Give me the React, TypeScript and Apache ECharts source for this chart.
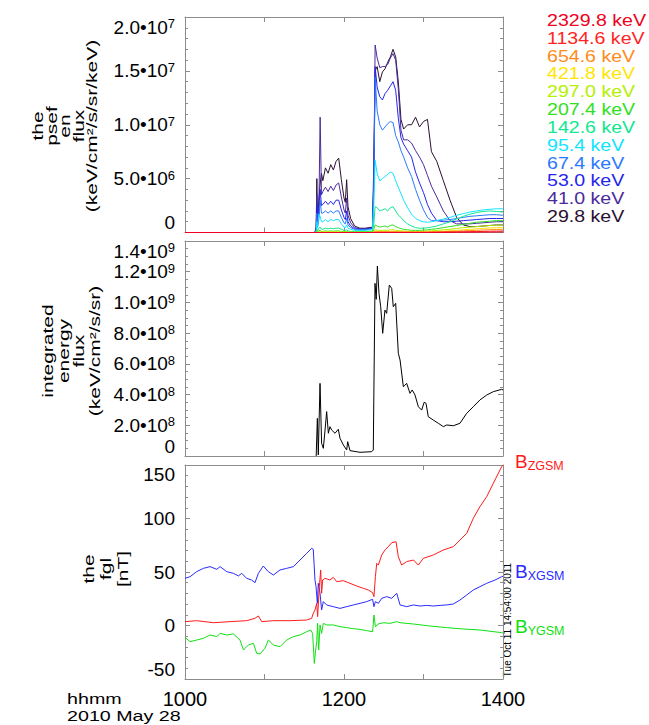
import React, { useEffect, useRef } from 'react';
import * as echarts from 'echarts';

const FONT = '"Liberation Sans", Arial, Helvetica, sans-serif';

// ---- time axis (minutes after 10:00 UT) ----
const timeTickValues = [0, 60, 120, 180, 240];
const timeTickLabels = ['1000', '', '1200', '', '1400'];

// ---- tick labels ----
const fluxTickValues = [0, 5, 10, 15, 20]; // units of 1e6
const fluxTickMantissa = ['0', '5.0', '1.0', '1.5', '2.0'];
const fluxTickExponent = ['', '6', '7', '7', '7'];

const intTickValues = [0, 2, 4, 6, 8, 10, 12, 14]; // units of 1e8
const intTickMantissa = ['0', '2.0', '4.0', '6.0', '8.0', '1.0', '1.2', '1.4'];
const intTickExponent = ['', '8', '8', '8', '8', '9', '9', '9'];

const fglTickValues = [-50, 0, 50, 100, 150];
const fglTickLabels = ['-50', '0', '50', '100', '150'];

// ---- panel 1: psef energy flux per channel (units of 1e6 keV/cm2/s/sr/keV) ----
const fluxTimes = [0, 98, 99, 99.5, 100, 101, 102, 103, 104, 106, 108, 110, 112, 114, 116, 118, 120, 121, 122, 123, 125, 128, 132, 136, 141.5, 142.5, 143.5, 145, 147, 149, 151, 153, 155, 157, 159, 161, 163, 165, 168, 171, 174, 177, 180, 183, 186, 190, 195, 200, 205, 210, 215, 220, 225, 230, 235, 240];

const flux29_8 = [0, 0, 0.5, 5.0, 1.0, 3.0, 4.5, 5.5, 4.8, 6.0, 5.5, 6.3, 5.8, 6.6, 6.9, 4.9, 3.2, 2.8, 4.9, 2.4, 1.3, 0.6, 0.4, 0.4, 0.5, 6.5, 15.0, 15.4, 14.0, 14.9, 15.2, 15.8, 16.3, 17.0, 16.3, 14.0, 10.5, 9.6, 10.0, 10.0, 10.7, 9.8, 10.3, 10.5, 7.5, 6.6, 4.8, 3.0, 1.4, 0.7, 0.55, 0.55, 0.6, 0.65, 0.7, 0.7];
const flux41_0 = [0, 0, 0.3, 3.5, 0.8, 2.0, 10.7, 3.5, 3.8, 4.2, 3.8, 4.3, 3.9, 4.4, 4.6, 3.3, 2.1, 1.8, 3.2, 1.6, 0.9, 0.45, 0.35, 0.35, 0.45, 5.0, 17.4, 16.2, 15.3, 15.4, 15.4, 15.6, 16.2, 16.6, 16.0, 13.3, 9.5, 8.6, 8.6, 8.3, 7.6, 7.0, 6.3, 5.3, 4.3, 3.3, 2.0, 1.1, 0.8, 0.8, 0.8, 0.85, 0.9, 0.95, 1.0, 1.0];
const flux53_0 = [0, 0, 0.2, 2.5, 0.6, 1.6, 4.0, 2.5, 2.6, 2.9, 2.6, 2.9, 2.6, 3.0, 3.0, 2.1, 1.4, 1.2, 2.0, 1.0, 0.6, 0.35, 0.3, 0.3, 0.4, 4.5, 15.4, 13.5, 12.6, 12.3, 12.9, 13.2, 13.6, 14.0, 13.2, 10.6, 8.8, 8.2, 7.6, 7.0, 5.6, 4.6, 3.7, 2.6, 1.8, 1.1, 1.0, 1.0, 1.05, 1.1, 1.15, 1.2, 1.25, 1.3, 1.3, 1.3];
const flux67_4 = [0, 0, 0.15, 1.8, 0.5, 1.2, 3.0, 1.8, 1.8, 2.0, 1.8, 2.0, 1.8, 2.0, 2.0, 1.4, 0.9, 0.8, 1.3, 0.7, 0.45, 0.3, 0.25, 0.25, 0.35, 4.0, 14.4, 11.3, 10.0, 9.5, 9.8, 10.1, 10.3, 10.2, 9.0, 8.4, 7.6, 7.0, 6.0, 5.2, 4.0, 3.0, 2.1, 1.4, 1.1, 1.1, 1.15, 1.2, 1.3, 1.4, 1.5, 1.55, 1.6, 1.65, 1.65, 1.6];
const flux95_4 = [0, 0, 0.1, 1.0, 0.4, 1.7, 1.5, 1.0, 1.0, 1.2, 1.0, 1.2, 1.1, 1.2, 1.2, 0.8, 0.5, 0.45, 0.7, 0.4, 0.3, 0.2, 0.2, 0.2, 0.25, 2.5, 6.7, 5.5, 4.8, 5.0, 5.2, 5.4, 5.6, 5.5, 4.8, 4.2, 3.6, 3.0, 2.3, 1.7, 1.3, 1.1, 1.0, 0.95, 1.0, 1.1, 1.25, 1.4, 1.6, 1.75, 1.9, 2.0, 2.1, 2.15, 2.2, 2.2];
const flux142_6 = [0, 0, 0, 0.3, 0.1, 0.4, 0.5, 0.3, 0.3, 0.4, 0.35, 0.4, 0.35, 0.4, 0.4, 0.3, 0.2, 0.2, 0.25, 0.15, 0.1, 0.1, 0.1, 0.1, 0.1, 0.8, 2.4, 2.3, 2.0, 2.1, 2.2, 2.0, 2.3, 2.4, 2.0, 1.6, 1.4, 1.1, 0.8, 0.6, 0.45, 0.4, 0.4, 0.45, 0.5, 0.6, 0.8, 1.0, 1.25, 1.5, 1.7, 1.85, 1.95, 2.0, 1.95, 1.9];
const flux207_4 = [0, 0, 0, 0.1, 0.05, 0.15, 0.2, 0.1, 0.1, 0.15, 0.12, 0.15, 0.12, 0.15, 0.15, 0.1, 0.08, 0.08, 0.1, 0.06, 0.05, 0.05, 0.05, 0.05, 0.05, 0.3, 0.7, 0.6, 0.5, 0.55, 0.6, 0.5, 0.65, 0.7, 0.55, 0.45, 0.35, 0.3, 0.25, 0.2, 0.2, 0.2, 0.22, 0.25, 0.3, 0.35, 0.45, 0.55, 0.65, 0.75, 0.85, 0.95, 1.0, 1.05, 1.1, 1.1];
const flux297_0 = [0, 0, 0, 0.05, 0.02, 0.05, 0.08, 0.05, 0.05, 0.06, 0.05, 0.06, 0.05, 0.06, 0.06, 0.05, 0.04, 0.04, 0.05, 0.03, 0.02, 0.02, 0.02, 0.02, 0.02, 0.1, 0.25, 0.22, 0.2, 0.2, 0.22, 0.2, 0.24, 0.25, 0.22, 0.18, 0.15, 0.13, 0.12, 0.1, 0.1, 0.1, 0.12, 0.14, 0.16, 0.2, 0.25, 0.3, 0.38, 0.45, 0.5, 0.55, 0.6, 0.65, 0.68, 0.7];
const flux421_8 = [0, 0, 0, 0.02, 0.01, 0.02, 0.03, 0.02, 0.02, 0.02, 0.02, 0.02, 0.02, 0.02, 0.02, 0.02, 0.01, 0.01, 0.02, 0.01, 0.01, 0.01, 0.01, 0.01, 0.01, 0.05, 0.12, 0.1, 0.1, 0.1, 0.1, 0.1, 0.11, 0.12, 0.1, 0.08, 0.07, 0.06, 0.06, 0.05, 0.05, 0.05, 0.06, 0.07, 0.08, 0.1, 0.13, 0.16, 0.2, 0.25, 0.3, 0.34, 0.38, 0.42, 0.44, 0.45];
const flux654_6 = [0, 0, 0, 0, 0, 0, 0, 0, 0, 0, 0, 0, 0, 0, 0, 0, 0, 0, 0, 0, 0, 0, 0, 0, 0, 0.02, 0.05, 0.05, 0.05, 0.05, 0.05, 0.05, 0.05, 0.05, 0.05, 0.04, 0.04, 0.03, 0.03, 0.03, 0.03, 0.03, 0.03, 0.04, 0.05, 0.06, 0.08, 0.1, 0.12, 0.15, 0.18, 0.2, 0.23, 0.26, 0.28, 0.3];
const flux1134_6 = [0, 0, 0, 0, 0, 0, 0, 0, 0, 0, 0, 0, 0, 0, 0, 0, 0, 0, 0, 0, 0, 0, 0, 0, 0, 0.01, 0.02, 0.02, 0.02, 0.02, 0.02, 0.02, 0.02, 0.02, 0.02, 0.02, 0.02, 0.02, 0.02, 0.02, 0.02, 0.02, 0.02, 0.02, 0.03, 0.03, 0.04, 0.05, 0.06, 0.07, 0.08, 0.09, 0.1, 0.12, 0.13, 0.14];
const flux2329_8 = [0, 0, 0, 0, 0, 0, 0, 0, 0, 0, 0, 0, 0, 0, 0, 0, 0, 0, 0, 0, 0, 0, 0, 0, 0, 0, 0, 0, 0, 0, 0, 0, 0, 0, 0, 0, 0, 0, 0, 0, 0, 0, 0, 0, 0, 0, 0.01, 0.01, 0.02, 0.02, 0.03, 0.03, 0.04, 0.04, 0.05, 0.05];

// drawn from lowest energy to highest (highest on top)
const channelLabels = ['29.8 keV', '41.0 keV', '53.0 keV', '67.4 keV', '95.4 keV', '142.6 keV', '207.4 keV', '297.0 keV', '421.8 keV', '654.6 keV', '1134.6 keV', '2329.8 keV'];
const channelColors = ['#2a1030', '#4a2a9a', '#2424ee', '#2a78ff', '#10e4ff', '#10e890', '#30e020', '#b4f000', '#ffe600', '#ff8c1a', '#ff2424', '#ee0020'];
const channelValues = [flux29_8, flux41_0, flux53_0, flux67_4, flux95_4, flux142_6, flux207_4, flux297_0, flux421_8, flux654_6, flux1134_6, flux2329_8];

// ---- panel 2: integrated energy flux (units of 1e8 keV/cm2/s/sr) ----
const intTimes = [99.0, 99.4, 99.9, 100.6, 101.9, 103.1, 104.4, 105.7, 106.9, 108.2, 109.4, 110.7, 113.2, 115.7, 117.0, 119.5, 122.0, 122.8, 124.5, 132.1, 140.9, 142.1, 143.4, 144.3, 145.2, 146.4, 147.7, 149.2, 150.9, 152.2, 154.2, 156.0, 157.2, 159.0, 161.0, 162.3, 164.8, 167.3, 169.8, 171.5, 173.6, 176.1, 178.6, 180.5, 181.9, 183.6, 187.4, 191.2, 195.0, 197.5, 202.5, 207.5, 212.6, 217.6, 222.6, 227.7, 232.7, 239.0, 240];
const intFlux = [0, 0, 2.45, 0.07, 4.73, 0.83, 0.5, 1.69, 2.89, 1.48, 1.91, 1.69, 1.48, 1.74, 1.15, 0.72, 0.39, 0.93, 0.35, 0.24, 0.28, 0.39, 11.24, 10.2, 12.37, 10.59, 9.72, 7.99, 9.5, 9.29, 11.13, 10.92, 9.72, 9.94, 6.69, 6.25, 4.51, 4.73, 4.08, 4.3, 3.97, 3.21, 2.99, 3.5, 3.43, 2.56, 2.34, 2.13, 1.91, 2.02, 1.97, 2.13, 2.78, 3.21, 3.65, 3.97, 4.19, 4.34, 4.3];

// ---- panel 3: fgl magnetic field GSM (nT) ----
const bxTimes = [0, 3.8, 8.8, 13.8, 18.9, 24.0, 26.5, 31.5, 36.5, 40.3, 42.8, 46.5, 50.3, 52.8, 55.4, 59.1, 62.9, 66.7, 71.7, 76.7, 81.8, 86.8, 91.8, 95.6, 96.8, 97.4, 98.1, 98.9, 99.9, 100.6, 101.9, 103.1, 104.4, 106.9, 111.9, 117.0, 122.0, 127.0, 132.1, 137.1, 141.6, 142.6, 143.7, 145.9, 148.5, 152.2, 156.0, 159.8, 162.3, 167.3, 172.4, 177.4, 182.4, 187.4, 192.5, 197.5, 202.5, 207.5, 212.6, 217.6, 222.6, 227.7, 234.0, 239.0, 240];
const bxValues = [44.1, 45.6, 50.3, 53.4, 55.0, 52.5, 55.0, 50.3, 48.8, 46.3, 48.8, 44.1, 42.5, 40.0, 48.8, 55.6, 50.3, 47.2, 51.9, 53.4, 55.0, 61.2, 67.4, 72.1, 71.2, 58.1, 42.5, 36.3, 20.7, 39.4, 30.1, 14.5, 22.3, 19.2, 17.6, 16.0, 17.6, 19.2, 20.7, 22.3, 24.5, 17.6, 22.3, 20.7, 25.4, 27.0, 25.4, 30.1, 19.2, 17.6, 19.2, 18.2, 18.8, 18.2, 18.8, 19.2, 20.1, 23.8, 28.5, 33.2, 36.3, 39.4, 42.5, 45.6, 46.0];

const byTimes = [0, 3.8, 8.8, 13.8, 18.9, 24.0, 26.5, 31.5, 36.5, 41.5, 44.1, 47.8, 51.6, 54.1, 56.6, 60.4, 62.9, 66.7, 71.7, 76.7, 81.8, 86.8, 91.8, 94.8, 96.3, 97.6, 98.6, 99.4, 100.1, 100.9, 101.9, 103.1, 104.4, 106.9, 111.9, 117.0, 122.0, 127.0, 132.1, 137.1, 141.6, 142.6, 143.7, 145.9, 149.7, 154.7, 159.8, 162.3, 172.4, 185.0, 197.5, 210.1, 222.6, 239.0, 240];
const byValues = [-11.1, -15.1, -13.6, -12.0, -8.9, -10.4, -7.3, -8.9, -7.9, -13.6, -22.9, -18.2, -16.7, -26.0, -26.6, -21.3, -13.6, -18.2, -19.8, -13.6, -10.4, -8.9, -5.8, -4.2, -7.3, -35.4, -22.9, -15.1, 2.0, -22.9, 0.5, -7.3, 2.0, 0.5, 0.5, -1.1, -2.0, -3.0, -3.6, -4.8, -5.8, 9.8, -1.1, 1.4, 2.6, 2.0, 3.6, 2.6, 1.4, -0.5, -2.0, -3.3, -4.2, -6.7, -7.0];

const bzTimes = [0, 8.8, 21.4, 34, 46.5, 52.8, 55.4, 57.9, 66.7, 79.2, 91.8, 95.6, 96.8, 98.1, 99.4, 100.1, 101.4, 102.4, 103.1, 103.9, 105.7, 109.4, 111.9, 114.5, 119.5, 124.5, 129.6, 134.6, 138.4, 141.6, 142.6, 143.7, 144.7, 145.9, 147.2, 148.5, 150.9, 153.5, 156.0, 159.3, 161.0, 163.5, 167.3, 172.4, 176.1, 179.9, 187.4, 195.0, 202.5, 207.5, 212.6, 217.6, 222.6, 227.7, 232.7, 239.0, 240];
const bzValues = [3.6, 4.5, 2.6, 3.6, 4.5, 6.7, 8.9, 3.6, 4.5, 4.5, 5.1, 6.7, 11.4, 14.5, 20.7, 8.3, 36.3, 51.9, 30.1, 42.5, 44.1, 42.5, 45.0, 41.0, 41.9, 39.4, 36.9, 34.7, 33.2, 30.7, 27.0, 45.6, 58.1, 56.5, 61.2, 65.9, 70.6, 73.7, 77.4, 78.3, 64.3, 56.5, 59.7, 61.2, 56.5, 62.8, 65.9, 70.6, 73.7, 79.9, 86.1, 100.2, 111.1, 120.4, 132.9, 148.4, 150.0];

const fieldLabels = ['XGSM', 'YGSM', 'ZGSM'];
const fieldColors = ['#2a2aff', '#10e010', '#ff1a1a'];

const AXIS_COLOR = '#8c8c8c';

const grids = [
  { left: 185, top: 17, width: 318, height: 215.5 },
  { left: 185, top: 241, width: 318, height: 215 },
  { left: 185, top: 465, width: 318, height: 214 },
];

function lookupSci(vals: number[], mant: string[], exp: string[]) {
  return (v: number) => {
    const i = vals.findIndex((t) => Math.abs(t - v) < 1e-6);
    if (i < 0) return '';
    return exp[i] ? `{m|${mant[i]}\u202210}{e|${exp[i]}}` : `{m|${mant[i]}}`;
  };
}

function lookupPlain(vals: number[], labels: string[]) {
  return (v: number) => {
    const i = vals.findIndex((t) => Math.abs(t - v) < 1e-6);
    return i < 0 ? '' : labels[i];
  };
}

function makeXAxes(gridIndex: number, showLabels: boolean) {
  const base: any = {
    type: 'value',
    gridIndex,
    min: 0,
    max: 240,
    interval: 60,
    axisLine: { show: true, onZero: false, lineStyle: { color: AXIS_COLOR, width: 1 } },
    axisTick: { show: true, inside: true, length: 5, lineStyle: { color: AXIS_COLOR } },
    splitLine: { show: false },
  };
  return [
    {
      ...base,
      position: 'bottom',
      axisLabel: {
        show: showLabels,
        margin: 10,
        fontSize: 20,
        fontFamily: FONT,
        color: '#000',
        formatter: lookupPlain(timeTickValues, timeTickLabels),
      },
    },
    { ...base, position: 'top', axisLabel: { show: false } },
  ];
}

function makeYAxes(gridIndex: number, min: number, max: number, interval: number, minorSplit: number, formatter: any, rich: boolean) {
  const base: any = {
    type: 'value',
    gridIndex,
    min,
    max,
    interval,
    axisLine: { show: true, onZero: false, lineStyle: { color: AXIS_COLOR, width: 1 } },
    axisTick: { show: true, inside: true, length: 5, lineStyle: { color: AXIS_COLOR } },
    minorTick: { show: true, splitNumber: minorSplit, length: 3, lineStyle: { color: AXIS_COLOR } },
    splitLine: { show: false },
    minorSplitLine: { show: false },
  };
  const labelStyle: any = {
    show: true,
    margin: 10,
    fontSize: 19,
    fontFamily: FONT,
    color: '#000',
    formatter,
    verticalAlignMaxLabel: 'top',
    verticalAlignMinLabel: 'bottom',
  };
  if (rich) {
    labelStyle.rich = {
      m: { fontSize: 19, fontFamily: FONT, color: '#000', lineHeight: 20 },
      e: { fontSize: 13, fontFamily: FONT, color: '#000', verticalAlign: 'top', lineHeight: 12 },
    };
  }
  return [
    { ...base, position: 'left', axisLabel: labelStyle },
    { ...base, position: 'right', axisLabel: { show: false } },
  ];
}

function rotatedTitle(text: string, cx: number, cy: number, lineHeight: number) {
  return {
    type: 'text',
    x: cx,
    y: cy,
    rotation: Math.PI / 2,
    scaleX: 1.4,
    scaleY: 1,
    style: {
      text,
      fontSize: 15,
      fontFamily: FONT,
      fill: '#000',
      align: 'center',
      verticalAlign: 'middle',
      lineHeight,
    },
  };
}

export default function App() {
  const ref = useRef<HTMLDivElement>(null);

  useEffect(() => {
    if (!ref.current) return;
    const chart = echarts.init(ref.current, null, { renderer: 'svg' });

    const series: any[] = [];
    channelValues.forEach((vals, c) => {
      series.push({
        name: channelLabels[c],
        type: 'line',
        xAxisIndex: 0,
        yAxisIndex: 0,
        data: fluxTimes.map((t, i) => [t, vals[i]]),
        symbol: 'none',
        showSymbol: false,
        lineStyle: { color: channelColors[c], width: 1 },
        itemStyle: { color: channelColors[c] },
      });
    });
    series.push({
      name: 'integrated',
      type: 'line',
      xAxisIndex: 2,
      yAxisIndex: 2,
      data: intTimes.map((t, i) => [t, intFlux[i]]),
      symbol: 'none',
      showSymbol: false,
      lineStyle: { color: '#000', width: 1 },
      itemStyle: { color: '#000' },
    });
    const fieldSets = [
      [bxTimes, bxValues],
      [byTimes, byValues],
      [bzTimes, bzValues],
    ];
    fieldSets.forEach(([ts, vs], k) => {
      series.push({
        name: fieldLabels[k],
        type: 'line',
        xAxisIndex: 4,
        yAxisIndex: 4,
        data: (ts as number[]).map((t, i) => [t, (vs as number[])[i]]),
        symbol: 'none',
        showSymbol: false,
        lineStyle: { color: fieldColors[k], width: 1 },
        itemStyle: { color: fieldColors[k] },
      });
    });

    const graphics: any[] = [];
    // y-axis titles
    graphics.push(rotatedTitle('the\npsef\nen\nflux\n(keV/cm\u00b2/s/sr/keV)', 65, 126, 13.5));
    graphics.push(rotatedTitle('integrated\nenergy\nflux\n(keV/cm\u00b2/s/sr)', 71, 351, 15.5));
    graphics.push(rotatedTitle('the\nfgl\n[nT]', 106, 569, 17));

    // channel legend (highest energy at top) as one multi-line rich text
    const LEG_FS = 15.8;
    const LEG_LH = 17.85;
    const legendRich: any = {};
    const legendLines: string[] = [];
    for (let j = 0; j < channelLabels.length; j++) {
      const c = channelLabels.length - 1 - j;
      legendRich['c' + c] = { fontSize: LEG_FS, fontFamily: FONT, fill: channelColors[c], lineHeight: LEG_LH };
      legendLines.push(`{c${c}|${channelLabels[c]}}`);
    }
    graphics.push({
      type: 'text',
      x: 547,
      y: 20.5 - LEG_LH / 2,
      scaleX: 1.24,
      style: {
        text: legendLines.join('\n'),
        rich: legendRich,
        align: 'left',
        verticalAlign: 'top',
        fontSize: LEG_FS,
        fontFamily: FONT,
        lineHeight: LEG_LH,
      },
    });

    // field labels B with subscript
    const fieldLabelY = [571.7, 626.7, 461.7];
    fieldLabels.forEach((lab, k) => {
      graphics.push({
        type: 'text',
        x: 515,
        y: fieldLabelY[k] - 11,
        style: {
          text: `{b|B}{s|${lab}}`,
          rich: {
            b: { fontSize: 19, fontFamily: FONT, fill: fieldColors[k], lineHeight: 22 },
            s: { fontSize: 12.5, fontFamily: FONT, fill: fieldColors[k], lineHeight: 10, verticalAlign: 'bottom' },
          },
          align: 'left',
          verticalAlign: 'top',
        },
      });
    });

    // time label
    graphics.push({
      type: 'text',
      x: 67,
      y: 707,
      scaleX: 1.27,
      style: {
        text: 'hhmm\n2010 May 28',
        fontSize: 15.5,
        fontFamily: FONT,
        fill: '#000',
        align: 'left',
        verticalAlign: 'middle',
        lineHeight: 17.5,
      },
    });

    // creation stamp
    graphics.push({
      type: 'text',
      x: 507,
      y: 620,
      rotation: Math.PI / 2,
      style: { text: 'Tue Oct 11 14:54:00 2011', fontSize: 10, fontFamily: FONT, fill: '#000', align: 'center', verticalAlign: 'middle' },
    });

    const option: any = {
      animation: false,
      backgroundColor: '#fff',
      grid: grids,
      xAxis: [...makeXAxes(0, false), ...makeXAxes(1, false), ...makeXAxes(2, true)],
      yAxis: [
        ...makeYAxes(0, 0, 20, 5, 5, lookupSci(fluxTickValues, fluxTickMantissa, fluxTickExponent), true),
        ...makeYAxes(1, 0, 14, 2, 4, lookupSci(intTickValues, intTickMantissa, intTickExponent), true),
        ...makeYAxes(2, -50, 150, 50, 5, lookupPlain(fglTickValues, fglTickLabels), false),
      ],
      series,
      graphic: { elements: graphics },
    };

    chart.setOption(option);
    return () => chart.dispose();
  }, []);

  return (
    <div
      ref={ref}
      style={{ position: 'absolute', left: 0, top: 0, width: 649, height: 725, background: '#fff' }}
    />
  );
}
